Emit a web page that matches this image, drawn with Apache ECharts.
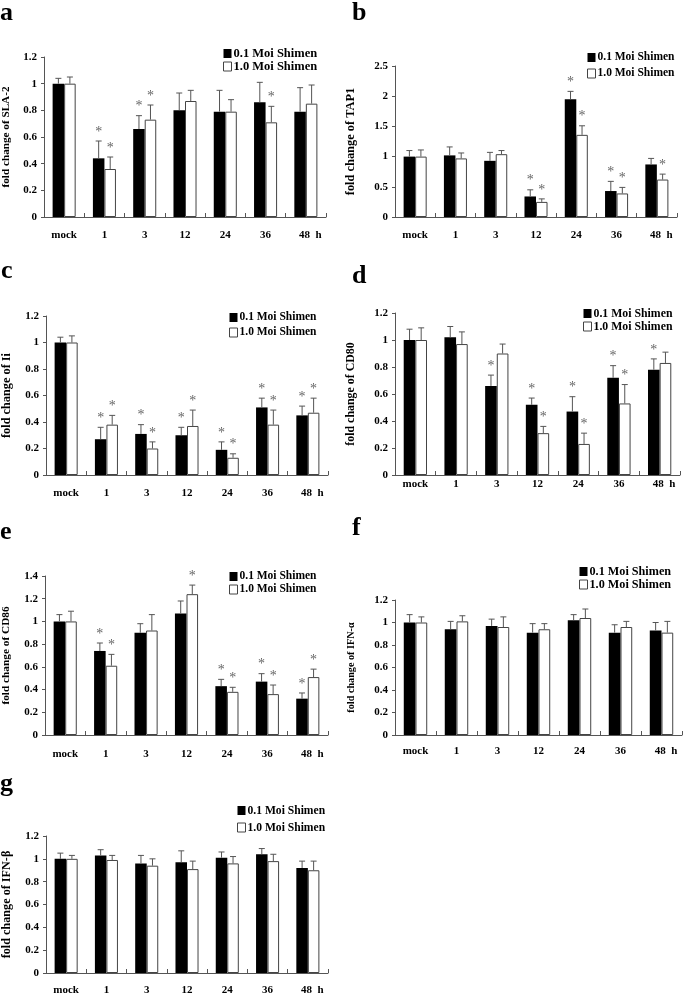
<!DOCTYPE html>
<html>
<head>
<meta charset="utf-8">
<script src="https://cdn.jsdelivr.net/npm/echarts@6/dist/echarts.min.js"></script>
<style>
html,body{margin:0;padding:0;background:#fff;}
#c{width:685px;height:997px;}
</style>
</head>
<body>
<div id="c"></div>
<script>
// ---- data ----
var categories = ['mock', '1', '3', '12', '24', '36', '48'];
var seriesNames = ['0.1 Moi Shimen', '1.0 Moi Shimen'];

// a: SLA-2
var slaLow = [1.00, 0.44, 0.66, 0.80, 0.79, 0.86, 0.79];
var slaLowSd = [0.04, 0.13, 0.10, 0.13, 0.16, 0.15, 0.18];
var slaHigh = [1.00, 0.36, 0.73, 0.87, 0.79, 0.71, 0.85];
var slaHighSd = [0.05, 0.09, 0.11, 0.08, 0.09, 0.12, 0.14];
var slaLowSig = [0, 1, 1, 0, 0, 0, 0];
var slaHighSig = [0, 1, 1, 0, 0, 1, 0];

// b: TAP1
var tapLow = [1.00, 1.02, 0.93, 0.34, 1.95, 0.43, 0.87];
var tapLowSd = [0.10, 0.14, 0.14, 0.11, 0.13, 0.16, 0.10];
var tapHigh = [1.00, 0.97, 1.04, 0.25, 1.36, 0.39, 0.62];
var tapHighSd = [0.11, 0.09, 0.06, 0.05, 0.15, 0.10, 0.09];
var tapLowSig = [0, 0, 0, 1, 1, 1, 0];
var tapHighSig = [0, 0, 0, 1, 1, 1, 1];

// c: Ii
var iiLow = [1.00, 0.27, 0.31, 0.30, 0.19, 0.51, 0.45];
var iiLowSd = [0.04, 0.09, 0.07, 0.06, 0.06, 0.07, 0.07];
var iiHigh = [1.00, 0.38, 0.20, 0.37, 0.13, 0.38, 0.47];
var iiHighSd = [0.05, 0.07, 0.05, 0.12, 0.03, 0.11, 0.11];
var iiLowSig = [0, 1, 1, 1, 1, 1, 1];
var iiHighSig = [0, 1, 1, 1, 1, 1, 1];

// d: CD80
var cd80Low = [1.00, 1.02, 0.66, 0.52, 0.47, 0.72, 0.78];
var cd80LowSd = [0.08, 0.08, 0.08, 0.05, 0.11, 0.09, 0.08];
var cd80High = [1.00, 0.97, 0.90, 0.31, 0.23, 0.53, 0.83];
var cd80HighSd = [0.09, 0.09, 0.07, 0.05, 0.08, 0.14, 0.08];
var cd80LowSig = [0, 0, 1, 1, 1, 1, 1];
var cd80HighSig = [0, 0, 0, 1, 1, 1, 0];

// e: CD86
var cd86Low = [1.00, 0.74, 0.90, 1.07, 0.43, 0.47, 0.32];
var cd86LowSd = [0.06, 0.07, 0.08, 0.11, 0.06, 0.07, 0.05];
var cd86High = [1.00, 0.61, 0.92, 1.24, 0.38, 0.36, 0.51];
var cd86HighSd = [0.09, 0.10, 0.14, 0.08, 0.04, 0.08, 0.07];
var cd86LowSig = [0, 1, 0, 0, 1, 1, 1];
var cd86HighSig = [0, 1, 0, 1, 1, 1, 1];

// f: IFN-alpha
var ifnaLow = [1.00, 0.94, 0.97, 0.91, 1.02, 0.91, 0.93];
var ifnaLowSd = [0.07, 0.07, 0.06, 0.08, 0.05, 0.07, 0.07];
var ifnaHigh = [1.00, 1.01, 0.96, 0.94, 1.04, 0.96, 0.91];
var ifnaHighSd = [0.05, 0.05, 0.09, 0.05, 0.08, 0.05, 0.10];
var ifnaLowSig = [0, 0, 0, 0, 0, 0, 0];
var ifnaHighSig = [0, 0, 0, 0, 0, 0, 0];

// g: IFN-beta
var ifnbLow = [1.00, 1.03, 0.96, 0.97, 1.01, 1.04, 0.92];
var ifnbLowSd = [0.05, 0.05, 0.07, 0.10, 0.05, 0.05, 0.06];
var ifnbHigh = [1.00, 0.99, 0.94, 0.91, 0.96, 0.98, 0.90];
var ifnbHighSd = [0.03, 0.04, 0.06, 0.07, 0.06, 0.06, 0.08];
var ifnbLowSig = [0, 0, 0, 0, 0, 0, 0];
var ifnbHighSig = [0, 0, 0, 0, 0, 0, 0];

// ---- panels (layout kept separate from data) ----
var panels = [
  {tag:'a', title:'fold change of SLA-2', low:slaLow, lowSd:slaLowSd, high:slaHigh, highSd:slaHighSd, lowSig:slaLowSig, highSig:slaHighSig,
   max:1.2, interval:0.2, grid:{left:40, top:57, width:286, height:160}, nameGap:32, labelMargin:13, titleSize:11.2,
   legend:{left:223, top:47, gap:0, size:12.5}, tagPos:[0, 20]},
  {tag:'b', title:'fold change of TAP1', low:tapLow, lowSd:tapLowSd, high:tapHigh, highSd:tapHighSd, lowSig:tapLowSig, highSig:tapHighSig,
   max:2.5, interval:0.5, grid:{left:395, top:66, width:282, height:151}, nameGap:38, labelMargin:13, titleSize:12.4,
   legend:{left:587, top:51, gap:3, size:11.5}, tagPos:[352, 20]},
  {tag:'c', title:'fold change of Ii', low:iiLow, lowSd:iiLowSd, high:iiHigh, highSd:iiHighSd, lowSig:iiLowSig, highSig:iiHighSig,
   max:1.2, interval:0.2, grid:{left:40, top:316, width:288, height:159}, nameGap:33, labelMargin:13, titleSize:12.3,
   legend:{left:229, top:311, gap:2, size:11.5}, tagPos:[1, 278]},
  {tag:'d', title:'fold change of CD80', low:cd80Low, lowSd:cd80LowSd, high:cd80High, highSd:cd80HighSd, lowSig:cd80LowSig, highSig:cd80HighSig,
   max:1.2, interval:0.2, grid:{left:395, top:313, width:285, height:162}, nameGap:38, labelMargin:4, titleSize:11.9,
   legend:{left:583, top:307, gap:0, size:11.8}, tagPos:[352, 283]},
  {tag:'e', title:'fold change of CD86', low:cd86Low, lowSd:cd86LowSd, high:cd86High, highSd:cd86HighSd, lowSig:cd86LowSig, highSig:cd86HighSig,
   max:1.4, interval:0.2, grid:{left:40, top:576, width:288, height:159}, nameGap:33, labelMargin:14, titleSize:11.3,
   legend:{left:229, top:570, gap:0, size:11.5}, tagPos:[0, 539]},
  {tag:'f', title:'fold change of IFN-α', low:ifnaLow, lowSd:ifnaLowSd, high:ifnaHigh, highSd:ifnaHighSd, lowSig:ifnaLowSig, highSig:ifnaHighSig,
   max:1.2, interval:0.2, grid:{left:395, top:600, width:287, height:135}, nameGap:39, labelMargin:11, titleSize:10.2,
   legend:{left:579, top:565, gap:0, size:12.2}, tagPos:[352, 535]},
  {tag:'g', title:'fold change of IFN-β', low:ifnbLow, lowSd:ifnbLowSd, high:ifnbHigh, highSd:ifnbHighSd, lowSig:ifnbLowSig, highSig:ifnbHighSig,
   max:1.2, interval:0.2, grid:{left:40, top:836, width:288, height:137}, nameGap:33, labelMargin:12, titleSize:12.2,
   legend:{left:237, top:804, gap:4, size:11.6}, tagPos:[0, 791]}
];

var FONT = '"Liberation Serif", "Times New Roman", serif';
var AXIS_COLOR = '#555';
var BAR_W = 0.286;

function errRender(side) {
  return function (params, api) {
    var idx = api.value(0), mean = api.value(1), sd = api.value(2), sig = api.value(3);
    var base = api.coord([idx, mean]);
    var band = api.size([1, 0])[0];
    var x = base[0] + side * band * BAR_W / 2;
    var top = api.coord([idx, mean + sd])[1];
    var children = [
      {type:'line', shape:{x1:x, y1:base[1], x2:x, y2:top}, style:{stroke:'#555', lineWidth:1}},
      {type:'line', shape:{x1:x - 3, y1:top, x2:x + 3, y2:top}, style:{stroke:'#555', lineWidth:1}}
    ];
    if (sig) {
      children.push({type:'text', x:x, y:top - 2,
        style:{text:'*', fill:'#666', font:'14px ' + FONT, align:'center', verticalAlign:'bottom'}});
    }
    return {type:'group', children:children};
  };
}

var grids = [], xAxes = [], yAxes = [], series = [], legends = [], graphics = [];

panels.forEach(function (p, i) {
  grids.push(Object.assign({containLabel:false}, p.grid));
  xAxes.push({
    type:'category', gridIndex:i,
    data: categories.map(function (c, k) {
      if (k === categories.length - 1) return {value: c + '  h', textStyle:{padding:[0, 0, 0, 9]}};
      return c;
    }),
    axisLine:{lineStyle:{color:AXIS_COLOR, width:1}},
    axisTick:{show:true, inside:true, length:4, interval:0, lineStyle:{color:AXIS_COLOR}},
    axisLabel:{interval:0, margin:p.labelMargin, color:'#000', fontFamily:FONT, fontWeight:'bold', fontSize:11}
  });
  yAxes.push({
    type:'value', gridIndex:i, min:0, max:p.max, interval:p.interval,
    name:p.title, nameLocation:'middle', nameGap:p.nameGap, nameRotate:90,
    nameTextStyle:{color:'#000', fontFamily:FONT, fontWeight:'bold', fontSize:p.titleSize || 11},
    axisLine:{show:true, lineStyle:{color:AXIS_COLOR, width:1}},
    axisTick:{show:true, length:3, lineStyle:{color:AXIS_COLOR}},
    splitLine:{show:false},
    axisLabel:{margin:7, color:'#000', fontFamily:FONT, fontWeight:'bold', fontSize:11}
  });
  series.push({
    name:seriesNames[0], type:'bar', xAxisIndex:i, yAxisIndex:i,
    data:p.low, barWidth:(BAR_W * 100) + '%', barGap:'0%',
    itemStyle:{color:'#000', borderColor:'#000', borderWidth:0}, silent:true
  });
  series.push({
    name:seriesNames[1], type:'bar', xAxisIndex:i, yAxisIndex:i,
    data:p.high, barWidth:(BAR_W * 100) + '%', barGap:'0%',
    itemStyle:{color:'#fff', borderColor:'#444', borderWidth:1}, silent:true
  });
  series.push({
    type:'custom', xAxisIndex:i, yAxisIndex:i, z:5, silent:true,
    renderItem:errRender(-1), encode:{x:0, y:1},
    data:p.low.map(function (v, k) { return [k, v, p.lowSd[k], p.lowSig[k]]; })
  });
  series.push({
    type:'custom', xAxisIndex:i, yAxisIndex:i, z:5, silent:true,
    renderItem:errRender(1), encode:{x:0, y:1},
    data:p.high.map(function (v, k) { return [k, v, p.highSd[k], p.highSig[k]]; })
  });
  legends.push({
    orient:'vertical', left:p.legend.left, top:p.legend.top, itemGap:p.legend.gap, padding:0,
    itemWidth:8, itemHeight:9, icon:'rect', selectedMode:false,
    data:[{name:seriesNames[0], itemStyle:{color:'#000', borderWidth:0}},
          {name:seriesNames[1], itemStyle:{color:'#fff', borderColor:'#444', borderWidth:1}}],
    textStyle:{color:'#000', fontFamily:FONT, fontWeight:'bold', fontSize:p.legend.size, lineHeight:13, padding:[0, 0, 0, -3]}
  });
  graphics.push({
    type:'text', x:p.tagPos[0], y:p.tagPos[1] + 6,
    style:{text:p.tag, font:'bold 26px ' + FONT, fill:'#000', verticalAlign:'bottom'}
  });
});

var chart = echarts.init(document.getElementById('c'), null, {renderer:'canvas'});
chart.setOption({
  animation:false,
  backgroundColor:'#fff',
  grid:grids, xAxis:xAxes, yAxis:yAxes, series:series, legend:legends,
  graphic:graphics
});
</script>
</body>
</html>
